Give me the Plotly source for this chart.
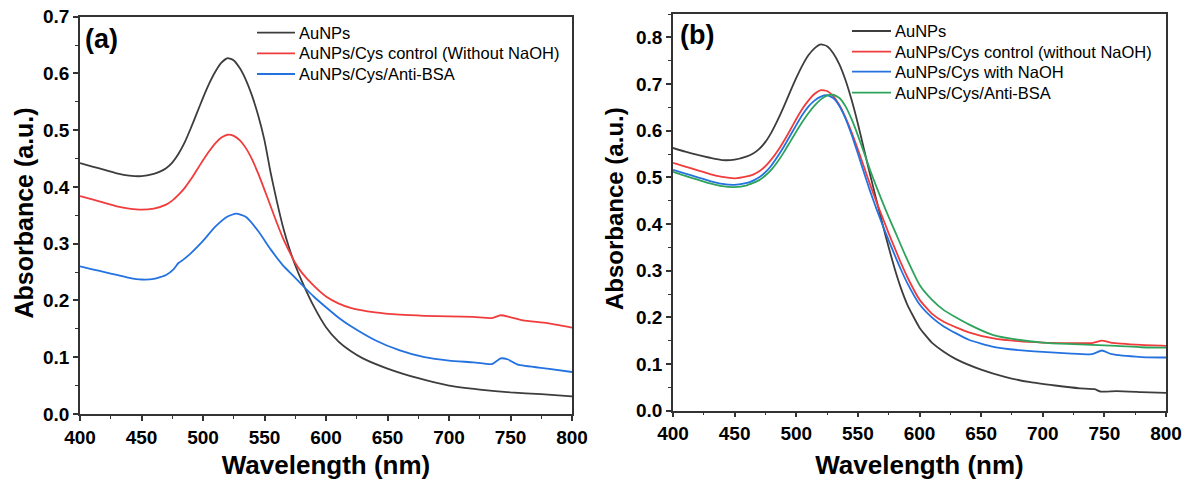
import plotly.graph_objects as go

# ---------------- panel (a) ----------------
wl_a_black = [400, 410, 420, 430, 440, 450, 460, 465, 470, 475, 480, 485, 490, 495, 500, 505, 510, 515, 520, 525, 530, 535, 540, 545, 550, 555, 560, 565, 570, 575, 580, 590, 600, 610, 620, 630, 650, 675, 700, 725, 750, 775, 800]
abs_a_black = [0.442, 0.436, 0.430, 0.424, 0.420, 0.419, 0.423, 0.427, 0.433, 0.443, 0.458, 0.478, 0.503, 0.530, 0.557, 0.582, 0.603, 0.619, 0.627, 0.623, 0.609, 0.588, 0.560, 0.525, 0.482, 0.425, 0.375, 0.330, 0.293, 0.262, 0.236, 0.190, 0.153, 0.128, 0.111, 0.098, 0.080, 0.063, 0.050, 0.043, 0.038, 0.035, 0.031]

wl_a_red = [400, 410, 420, 430, 440, 450, 460, 470, 475, 480, 485, 490, 495, 500, 505, 510, 515, 520, 525, 530, 535, 540, 545, 550, 555, 560, 565, 570, 575, 580, 590, 600, 610, 620, 640, 660, 680, 700, 720, 735, 742, 749, 760, 780, 800]
abs_a_red = [0.384, 0.378, 0.372, 0.366, 0.362, 0.360, 0.362, 0.369, 0.376, 0.386, 0.398, 0.413, 0.430, 0.447, 0.463, 0.477, 0.487, 0.492, 0.490, 0.482, 0.468, 0.448, 0.423, 0.395, 0.366, 0.337, 0.310, 0.287, 0.266, 0.250, 0.226, 0.207, 0.195, 0.187, 0.179, 0.175, 0.173, 0.172, 0.171, 0.169, 0.174, 0.171, 0.165, 0.160, 0.152]

wl_a_blue = [400, 410, 420, 430, 440, 450, 460, 470, 476, 480, 484, 490, 500, 510, 520, 527, 535, 545, 555, 565, 575, 583, 590, 600, 610, 620, 640, 660, 680, 700, 720, 735, 742, 748, 756, 780, 800]
abs_a_blue = [0.260, 0.255, 0.250, 0.245, 0.240, 0.237, 0.238, 0.245, 0.255, 0.266, 0.272, 0.283, 0.305, 0.330, 0.348, 0.353, 0.347, 0.322, 0.290, 0.262, 0.240, 0.222, 0.207, 0.188, 0.170, 0.155, 0.130, 0.112, 0.100, 0.094, 0.091, 0.088, 0.098, 0.096, 0.087, 0.080, 0.074]

# ---------------- panel (b) ----------------
wl_b_black = [400, 410, 420, 430, 440, 450, 460, 465, 470, 475, 480, 485, 490, 495, 500, 505, 510, 515, 520, 525, 530, 535, 540, 545, 550, 555, 560, 565, 570, 575, 580, 585, 590, 600, 610, 620, 630, 650, 670, 690, 710, 730, 742, 747, 760, 780, 800]
abs_b_black = [0.563, 0.555, 0.548, 0.542, 0.537, 0.538, 0.545, 0.551, 0.561, 0.576, 0.597, 0.623, 0.652, 0.683, 0.713, 0.740, 0.762, 0.777, 0.785, 0.781, 0.766, 0.742, 0.708, 0.665, 0.615, 0.560, 0.505, 0.452, 0.400, 0.350, 0.303, 0.262, 0.228, 0.178, 0.146, 0.126, 0.110, 0.088, 0.072, 0.061, 0.054, 0.048, 0.046, 0.041, 0.042, 0.040, 0.038]

wl_b_red = [400, 410, 420, 430, 440, 450, 460, 465, 470, 475, 480, 485, 490, 495, 500, 505, 510, 515, 520, 525, 530, 535, 540, 545, 550, 555, 560, 565, 570, 575, 580, 585, 590, 600, 610, 620, 640, 660, 680, 700, 720, 740, 748, 755, 780, 800]
abs_b_red = [0.531, 0.523, 0.515, 0.507, 0.501, 0.498, 0.502, 0.506, 0.513, 0.524, 0.539, 0.557, 0.578, 0.601, 0.625, 0.647, 0.665, 0.679, 0.687, 0.685, 0.674, 0.655, 0.628, 0.596, 0.560, 0.522, 0.484, 0.448, 0.414, 0.380, 0.348, 0.316, 0.287, 0.238, 0.208, 0.190, 0.168, 0.155, 0.149, 0.146, 0.145, 0.145, 0.150, 0.146, 0.141, 0.139]

wl_b_blue = [400, 410, 420, 430, 440, 450, 460, 465, 470, 475, 480, 485, 490, 495, 500, 505, 510, 515, 520, 525, 530, 535, 540, 545, 550, 555, 560, 565, 570, 575, 580, 585, 590, 600, 610, 620, 640, 660, 680, 700, 720, 740, 748, 756, 780, 800]
abs_b_blue = [0.516, 0.508, 0.500, 0.492, 0.486, 0.484, 0.488, 0.493, 0.500, 0.511, 0.526, 0.545, 0.566, 0.589, 0.612, 0.634, 0.652, 0.665, 0.673, 0.676, 0.670, 0.653, 0.626, 0.591, 0.551, 0.510, 0.470, 0.433, 0.398, 0.365, 0.333, 0.302, 0.274, 0.228, 0.200, 0.180, 0.152, 0.137, 0.130, 0.126, 0.123, 0.121, 0.129, 0.121, 0.115, 0.114]

wl_b_green = [400, 410, 420, 430, 440, 450, 460, 465, 470, 475, 480, 485, 490, 495, 500, 505, 510, 515, 520, 525, 530, 535, 540, 545, 550, 555, 560, 565, 570, 575, 580, 585, 590, 600, 610, 620, 640, 660, 680, 700, 720, 740, 760, 780, 800]
abs_b_green = [0.512, 0.503, 0.495, 0.487, 0.481, 0.479, 0.483, 0.488, 0.494, 0.504, 0.517, 0.534, 0.554, 0.576, 0.598, 0.619, 0.638, 0.654, 0.667, 0.675, 0.677, 0.670, 0.652, 0.624, 0.590, 0.553, 0.515, 0.480, 0.447, 0.415, 0.385, 0.354, 0.324, 0.270, 0.238, 0.215, 0.185, 0.162, 0.152, 0.146, 0.143, 0.141, 0.139, 0.136, 0.135]

labels_a = ["AuNPs", "AuNPs/Cys control (Without NaOH)", "AuNPs/Cys/Anti-BSA"]
labels_b = ["AuNPs", "AuNPs/Cys control (without NaOH)", "AuNPs/Cys with NaOH", "AuNPs/Cys/Anti-BSA"]

x_ticks = [400, 450, 500, 550, 600, 650, 700, 750, 800]
y_ticks_a = [0.0, 0.1, 0.2, 0.3, 0.4, 0.5, 0.6, 0.7]
y_ticks_b = [0.0, 0.1, 0.2, 0.3, 0.4, 0.5, 0.6, 0.7, 0.8]

BLACK = "#3d3d3d"
RED = "#f03c3c"
BLUE = "#2372e0"
GREEN = "#2da35c"
AXIS = "#333333"
FONT = "Arial, 'Liberation Sans', sans-serif"

W, H = 1187, 480

fig = go.Figure()

def add_line(x, y, name, color, xa, ya):
    fig.add_trace(go.Scatter(
        x=x, y=y, name=name, mode="lines", showlegend=False,
        line=dict(color=color, width=1.8, shape="spline", smoothing=0.5),
        xaxis=xa, yaxis=ya,
    ))

colors_a = [BLACK, RED, BLUE]
colors_b = [BLACK, RED, BLUE, GREEN]
series_a = [(wl_a_black, abs_a_black), (wl_a_red, abs_a_red), (wl_a_blue, abs_a_blue)]
series_b = [(wl_b_black, abs_b_black), (wl_b_red, abs_b_red), (wl_b_blue, abs_b_blue), (wl_b_green, abs_b_green)]

for (x, y), name, c in zip(series_a, labels_a, colors_a):
    add_line(x, y, name, c, "x", "y")
for (x, y), name, c in zip(series_b, labels_b, colors_b):
    add_line(x, y, name, c, "x2", "y2")


def xaxis(domain, anchor):
    return dict(
        domain=domain, anchor=anchor, range=[400, 800], automargin=False,
        tickvals=x_ticks, ticktext=[str(v) for v in x_ticks],
        ticks="outside", ticklen=5, tickwidth=1.5, tickcolor=AXIS,
        minor=dict(ticks="outside", dtick=25, ticklen=3, tickwidth=1.2, tickcolor=AXIS),
        showline=True, linecolor=AXIS, linewidth=1.5, mirror=True,
        showgrid=False, zeroline=False,
        tickfont=dict(family=FONT, size=19, color="#000", weight="bold"),
        title=dict(text="Wavelength (nm)",
                   font=dict(family=FONT, size=26, color="#000", weight="bold")),
    )


def yaxis(domain, anchor, rng, ticks):
    return dict(
        domain=domain, anchor=anchor, range=rng, automargin=False,
        tickvals=ticks, ticktext=[f"{v:.1f}" for v in ticks],
        ticks="outside", ticklen=5, tickwidth=1.5, tickcolor=AXIS,
        minor=dict(ticks="outside", dtick=0.05, ticklen=3, tickwidth=1.2, tickcolor=AXIS),
        showline=True, linecolor=AXIS, linewidth=1.5, mirror=True,
        showgrid=False, zeroline=False,
        tickfont=dict(family=FONT, size=19, color="#000", weight="bold"),
    )


shapes = []
annotations = []

# legend blocks: a short coloured stroke followed by the series name
def legend_block(names, colors, x0, x1, xt, rows):
    for name, c, yr in zip(names, colors, rows):
        shapes.append(dict(type="line", xref="paper", yref="paper",
                           x0=x0 / W, x1=x1 / W, y0=1 - yr / H, y1=1 - yr / H,
                           line=dict(color=c, width=1.8)))
        annotations.append(dict(text=name, xref="paper", yref="paper",
                                x=xt / W, y=1 - yr / H, xanchor="left", yanchor="middle",
                                showarrow=False,
                                font=dict(family=FONT, size=16.5, color="#000")))

legend_block(labels_a, colors_a, 257, 295, 297, [32.7, 53.3, 74.0])
legend_block(labels_b, colors_b, 852, 891, 893, [31.0, 51.7, 71.7, 92.7])

# vertical axis titles
for xc, yc, size in [(23.5, 213, 25), (614, 208, 24)]:
    annotations.append(dict(text="Absorbance (a.u.)", xref="paper", yref="paper",
                            x=xc / W, y=1 - yc / H, xanchor="center", yanchor="middle",
                            textangle=-90, showarrow=False,
                            font=dict(family=FONT, size=size, color="#000", weight="bold")))

# panel letters
for txt, xc, yc in [("(a)", 101, 39), ("(b)", 697, 35)]:
    annotations.append(dict(text=txt, xref="paper", yref="paper",
                            x=xc / W, y=1 - yc / H, xanchor="center", yanchor="middle",
                            showarrow=False,
                            font=dict(family=FONT, size=27, color="#000", weight="bold")))

fig.update_layout(
    width=W, height=H,
    margin=dict(l=0, r=0, t=0, b=0),
    paper_bgcolor="white", plot_bgcolor="white",
    xaxis=xaxis([80 / W, 572 / W], "y"),
    yaxis=yaxis([1 - 414 / H, 1 - 16.7 / H], "x", [0, 0.7], y_ticks_a),
    xaxis2=xaxis([673 / W, 1166 / W], "y2"),
    yaxis2=yaxis([1 - 410.7 / H, 1 - 14 / H], "x2", [0, 0.85], y_ticks_b),
    shapes=shapes,
    annotations=annotations,
)

fig.write_html("out.html")
